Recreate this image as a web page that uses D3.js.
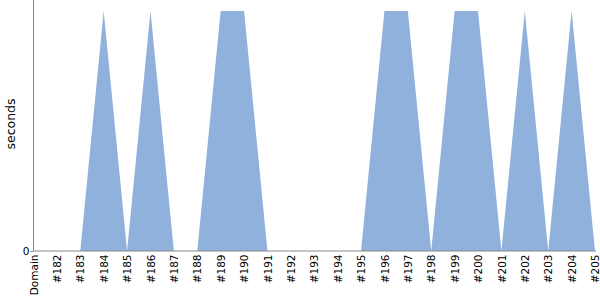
<!DOCTYPE html>
<html><head><meta charset="utf-8">
<script src="https://cdn.jsdelivr.net/npm/d3@7"></script>
<style>body{margin:0;background:#fff;}svg{display:block;}</style>
</head><body>
<svg width="600" height="300"></svg>
<script>
const categories = ["Domain","#182","#183","#184","#185","#186","#187","#188","#189","#190","#191","#192","#193","#194","#195","#196","#197","#198","#199","#200","#201","#202","#203","#204","#205"];
const seconds = [0,0,0,1,0,1,0,0,1,1,0,0,0,0,0,1,1,0,1,1,0,1,0,1,0];
const yTicks = [0];

(function(){
const svg = d3.select("svg");
const font = "DejaVu Sans, sans-serif";
const mLeft = 33.5, mRight = 595, mTop = 0, mBottom = 251;
const x = d3.scalePoint().domain(categories).range([mLeft, mRight]);
const y = d3.scaleLinear().domain([0, 1.046]).range([mBottom, mTop]);

const data = categories.map((c,i)=>({c, v: seconds[i]}));
svg.append("path").datum(data)
  .attr("fill", "#8fb1db")
  .attr("d", d3.area().x(d=>x(d.c)).y0(y(0)).y1(d=>y(d.v)));

const yAxis = svg.append("g").attr("transform", `translate(${mLeft},0)`)
  .call(d3.axisLeft(y).tickValues(yTicks).tickSize(3).tickFormat(d3.format("d")));
yAxis.select(".domain").attr("stroke","#888").attr("d", `M0,${mTop}V${mBottom}`);
yAxis.selectAll(".tick line").attr("stroke","#888");
yAxis.selectAll("text").attr("font-family",font).attr("font-size",10.5).attr("fill","#000").attr("x",-4).attr("dy","0.35em");

const xAxis = svg.append("g").attr("transform", `translate(0,${mBottom})`)
  .call(d3.axisBottom(x).tickSize(0));
xAxis.select(".domain").attr("stroke","#888").attr("d", `M${mLeft},0H${mRight+1}`);
xAxis.selectAll("text")
  .attr("font-family",font).attr("font-size",10.5).attr("fill","#000")
  .attr("transform","rotate(-90)")
  .attr("text-anchor","end")
  .attr("x",-3.5).attr("y",0).attr("dy","0.35em");

svg.append("text")
  .attr("transform","translate(15,124) rotate(-90)")
  .attr("text-anchor","middle")
  .attr("font-family",font).attr("font-size",12.5)
  .text("seconds");
})();
</script>
</body></html>
